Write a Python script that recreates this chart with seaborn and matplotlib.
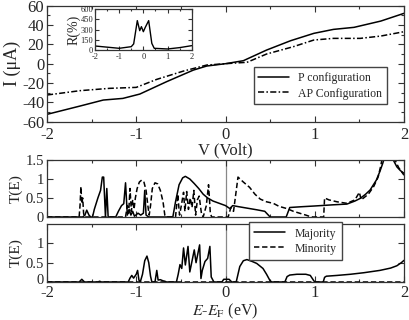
import numpy as np
import pandas as pd
import matplotlib
matplotlib.use("Agg")
import matplotlib.pyplot as plt
from matplotlib.ticker import MultipleLocator
from matplotlib.transforms import ScaledTranslation
import seaborn as sns

# I-V curves
v_p = [-2.0, -1.63, -1.37, -1.15, -0.96, -0.66, -0.36, -0.21, 0.0, 0.2, 0.46, 0.73, 0.99, 1.21, 1.44, 1.74, 2.0]
i_p = [-52.4, -43.8, -37.6, -35.9, -31.4, -18.6, -6.6, -2.4, 0.0, 3.1, 14.1, 23.8, 31.4, 35.5, 37.6, 44.1, 52.1]
v_ap = [-2.0, -1.63, -1.30, -1.0, -0.77, -0.47, -0.21, 0.0, 0.16, 0.24, 0.46, 0.76, 0.99, 1.21, 1.51, 1.74, 2.0]
i_ap = [-32.4, -27.9, -25.5, -24.5, -16.2, -7.6, -1.4, 0.0, 1.0, 1.4, 10.0, 17.6, 24.5, 26.2, 26.2, 28.6, 33.1]

# magnetoresistance inset
v_r = [-2.0, -1.5, -1.0, -0.5, -0.4, -0.25, -0.15, -0.08, 0.0, 0.08, 0.22, 0.35, 0.45, 1.0, 1.5, 2.0]
r_pct = [59, 42, 25, 49, 90, 433, 285, 344, 270, 334, 433, 98, 25, 15, 35, 64]

# transmission, middle panel
e_mid_maj = [-2.0, -1.6, -1.575, -1.555, -1.53, -1.51, -1.49, -1.47, -1.43, -1.40, -1.38, -1.365, -1.345,
             -1.33, -1.315, -1.23, -1.2, -1.165, -1.14, -1.12, -1.10, -1.08, -1.06, -1.04, -1.02, -0.98,
             -0.95, -0.92, -0.905, -0.89, -0.86, -0.59, -0.56, -0.52, -0.48, -0.45, -0.40, -0.35, -0.30,
             -0.25, -0.20, -0.14, -0.07, 0.0, 0.05, 0.08, 0.15, 0.25, 0.35, 0.44, 0.50, 0.68, 0.72, 0.85,
             1.0, 1.2, 1.36, 1.45, 1.51, 1.57, 1.62, 1.69, 1.73, 1.76, 1.78, 1.80, 1.86, 1.88, 1.92, 1.96, 2.0]
t_mid_maj = [0, 0, 0.05, 0.18, 0.05, 0, 0, 0.2, 0.5, 0.7, 1.05, 1.05, 0,
             0.75, 0, 0, 0.15, 0.3, 0.35, 0.9, 0.05, 0.2, 0.05, 0.15, 0.02, 0.1,
             0.05, 0.1, 0.7, 0.05, 0, 0, 0.4, 0.85, 1.03, 1.07, 1.0, 0.88, 0.75,
             0.6, 0.5, 0.42, 0.36, 0.3, 0.22, 0.3, 0.27, 0.23, 0.19, 0.15, 0, 0, 0.25, 0.27,
             0.29, 0.32, 0.34, 0.42, 0.49, 0.6, 0.71, 0.97, 1.2, 1.4, 1.55, 2.2, 2.2, 1.5, 1.32, 1.22, 1.15]

e_mid_min = [-2.0, -1.64, -1.63, -1.62, -1.61, -1.60, -1.59, -1.58, -1.12, -1.10, -1.085, -1.07, -1.055,
             -1.04, -1.025, -1.01, -0.99, -0.965, -0.94, -0.915, -0.89, -0.87, -0.855, -0.84, -0.82, -0.79,
             -0.76, -0.73, -0.70, -0.68, -0.665, -0.56, -0.535, -0.515, -0.495, -0.47, -0.455, -0.435,
             -0.415, -0.395, -0.375, -0.355, -0.335, -0.315, -0.295, -0.27, -0.25, -0.215, -0.19, -0.17,
             -0.155, 0.03, 0.06, 0.09, 0.14, 0.2, 0.27, 0.33, 0.39, 0.46, 0.535, 0.6, 0.69, 0.76, 0.83,
             0.9, 0.95, 0.98, 1.10, 1.11, 1.16, 1.25, 1.36, 1.45, 1.5, 1.52, 1.6, 1.66, 1.71, 1.74, 1.76,
             1.85, 1.88, 1.9, 1.94, 1.97, 2.0]
t_mid_min = [0, 0, 0.3, 0.8, 0.35, 0.5, 0.1, 0, 0, 0.3, 0.1, 0.75, 0.15,
             0.45, 0.2, 0.5, 0.75, 0.92, 0.97, 0.93, 0.7, 0.3, 0.05, 0.3, 0.75, 0.9,
             0.87, 0.7, 0.4, 0.05, 0, 0, 0.6, 0.05, 0.3, 0.65, 0.15, 0.67,
             0.2, 0.5, 0.25, 0.7, 0.05, 0.45, 0.55, 0.1, 0, 0.3, 0.85, 0.1,
             0, 0, 0.25, 0.15, 1.05, 0.92, 0.78, 0.6, 0.47, 0.4, 0.36, 0.28, 0.22, 0.15, 0.1,
             0.05, 0.01, 0, 0, 0.5, 0.45, 0.4, 0.36, 0.45, 0.65, 0.45, 0.6, 0.8, 1.05, 1.35, 1.6,
             2.2, 2.0, 1.5, 1.3, 1.2, 1.1]

# transmission, bottom panel
e_bot_maj = [-2.0, -1.64, -1.61, -1.58, -1.43, -1.41, -1.39, -1.09, -1.07, -1.05, -1.03, -1.0, -0.985,
             -0.97, -0.955, -0.93, -0.905, -0.88, -0.86, -0.84, -0.825, -0.79, -0.77, -0.755, -0.73,
             -0.70, -0.68, -0.66, -0.55, -0.53, -0.51, -0.49, -0.47, -0.45, -0.42, -0.40, -0.37, -0.35,
             -0.33, -0.29, -0.275, -0.26, -0.23, -0.20, -0.175, -0.16, -0.13, -0.04, -0.02, 0.04, 0.07,
             0.12, 0.16, 0.2, 0.24, 0.3, 0.35, 0.42, 0.46, 0.5, 0.52, 0.665, 0.69, 0.72, 0.8, 0.9, 0.95,
             0.99, 1.003, 1.095, 1.11, 1.13, 1.25, 1.4, 1.55, 1.73, 1.85, 1.92, 1.97, 2.0]
t_bot_maj = [0, 0, 0.07, 0, 0, 0.02, 0, 0, 0.1, 0.17, 0.1, 0.2, 0.3,
             0.05, 0, 0.2, 0.55, 0.67, 0.5, 0.15, 0, 0, 0.3, 0.05, 0.06,
             0.03, 0.02, 0, 0, 0.2, 0.45, 0.35, 0.88, 0.44, 0.92, 0.26, 0.6, 0.83,
             0.5, 0.96, 0.09, 0.3, 0.53, 0.61, 0.92, 0.13, 0, 0, 0.07, 0.07, 0,
             0, 0.4, 0.55, 0.58, 0.53, 0.48, 0.35, 0.2, 0.03, 0, 0, 0.14, 0.18, 0.2, 0.2, 0.17,
             0.03, 0, 0, 0.12, 0.15, 0.17, 0.2, 0.24, 0.3, 0.36, 0.42, 0.5, 0.56]
e_bot_min = [-2.0, 2.0]
t_bot_min = [0.0, 0.0]

sns.set_style("ticks")
plt.rcParams["font.family"] = ["Liberation Serif", "DejaVu Serif"]
plt.rcParams["mathtext.fontset"] = "stix"
plt.rcParams["axes.unicode_minus"] = False
plt.rcParams["xtick.direction"] = "in"
plt.rcParams["ytick.direction"] = "in"

W, H = 409, 320
fig = plt.figure(figsize=(W / 100, H / 100), dpi=100)


def box(x0, y0, x1, y1):
    return [x0 / W, 1 - y1 / H, (x1 - x0) / W, (y1 - y0) / H]


ax_iv = fig.add_axes(box(47, 5.7, 404, 121.7))
ax_mid = fig.add_axes(box(47, 160, 404, 217))
ax_bot = fig.add_axes(box(47, 224, 404, 282))
ax_in = fig.add_axes(box(95, 9.3, 191.7, 50))


def style(ax, size=10, xpad=3.5):
    for s in ax.spines.values():
        s.set_linewidth(0.9)
        s.set_color("#333333")
    ax.tick_params(which="both", top=True, right=True, labelsize=size, width=0.8, color="#333333")
    ax.tick_params(which="major", length=4.5, pad=2)
    ax.tick_params(axis="x", which="major", pad=xpad)
    ax.tick_params(which="minor", length=2.5)
    ax.xaxis.set_major_locator(MultipleLocator(1))
    ax.xaxis.set_minor_locator(MultipleLocator(0.5))


lw = 1.1
sns.lineplot(x=v_p, y=i_p, ax=ax_iv, color="black", lw=lw, estimator=None, label="P configuration")
sns.lineplot(x=v_ap, y=i_ap, ax=ax_iv, color="black", lw=lw, estimator=None,
             linestyle=(0, (4, 1.5, 1, 1.5)), label="AP Configuration")
ax_iv.set_xlim(-2, 2)
ax_iv.set_ylim(-60, 60)
style(ax_iv, 12)
ax_iv.yaxis.set_major_locator(MultipleLocator(20))
ax_iv.yaxis.set_minor_locator(MultipleLocator(10))
ax_iv.set_xlabel("V (Volt)", fontsize=12, labelpad=0)
ax_iv.set_ylabel("I (μA)", fontsize=13, labelpad=1)
ax_iv.legend(loc="lower right", bbox_to_anchor=(0.953, 0.15), fontsize=8.5, frameon=True,
             fancybox=False, edgecolor="#444444", framealpha=1, handlelength=2.6,
             borderpad=0.4, labelspacing=0.3, borderaxespad=0)

sns.lineplot(x=v_r, y=r_pct, ax=ax_in, color="black", lw=1.0, estimator=None)
ax_in.set_xlim(-2, 2)
ax_in.set_ylim(0, 600)
style(ax_in, 6, xpad=2.5)
ax_in.tick_params(which="major", length=3)
ax_in.tick_params(axis="y", which="major", pad=1.2)
ax_in.tick_params(which="minor", length=1.5)
ax_in.yaxis.set_major_locator(MultipleLocator(150))
ax_in.set_ylabel("R(%)", fontsize=10, labelpad=0)

sns.lineplot(x=e_mid_maj, y=t_mid_maj, ax=ax_mid, color="black", lw=lw, estimator=None)
sns.lineplot(x=e_mid_min, y=t_mid_min, ax=ax_mid, color="black", lw=lw, estimator=None,
             linestyle=(0, (3.5, 1.8)))
sns.lineplot(x=e_bot_maj, y=t_bot_maj, ax=ax_bot, color="black", lw=lw, estimator=None, label="Majority")
sns.lineplot(x=e_bot_min, y=t_bot_min, ax=ax_bot, color="black", lw=lw, estimator=None,
             linestyle=(0, (3.5, 1.8)), label="Minority")

for ax in (ax_mid, ax_bot):
    ax.axvline(0, color="#888888", lw=0.9, zorder=0)
    ax.set_xlim(-2, 2)
    ax.set_ylim(0, 1.5)
    style(ax, 10.5, xpad=2.5)
    ax.tick_params(axis="x", labelsize=12)
    ax.set_ylabel("T(E)", fontsize=11, labelpad=2)
    ax.yaxis.set_major_locator(MultipleLocator(0.5))
    ax.yaxis.set_major_formatter(plt.FuncFormatter(lambda v, p: f"{v:g}"))

ax_mid.tick_params(labelbottom=False)
ax_mid.set_xlabel("")
ax_bot.set_yticks([0, 0.5, 1])
# lift the bottom "0" a little so it clears the "-2" below it
zero_lbl = ax_bot.yaxis.get_major_ticks()[0].label1
zero_lbl.set_transform(zero_lbl.get_transform() + ScaledTranslation(0, 2.5 / 100, fig.dpi_scale_trans))
ax_bot.set_xlabel(r"$E$-$E_{\rm F}$ (eV)", fontsize=11.5, labelpad=0)
ax_bot.legend(loc="upper left", bbox_to_anchor=(0.566, 1.03), fontsize=8.5, frameon=True,
              fancybox=False, edgecolor="#444444", framealpha=1, handlelength=2.6,
              borderpad=0.45, labelspacing=0.25, borderaxespad=0)

fig.savefig("out.png", dpi=100)
